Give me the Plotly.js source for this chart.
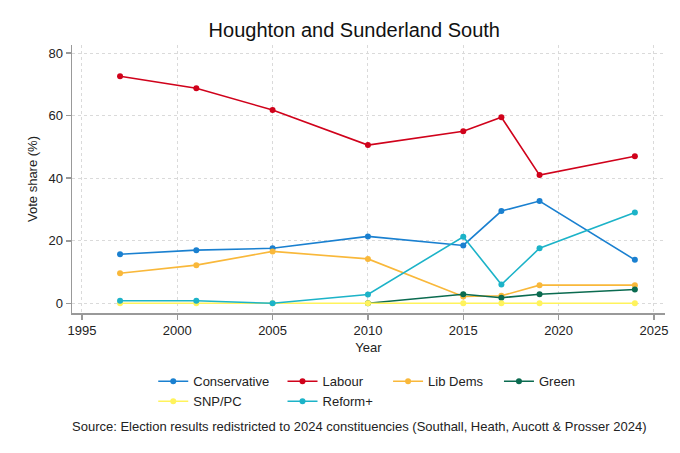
<!DOCTYPE html>
<html>
<head>
<meta charset="utf-8">
<script src="https://cdn.plot.ly/plotly-3.0.1.min.js"></script>
<style>
  html, body { margin: 0; padding: 0; background: #fff; }
  #plot { width: 680px; height: 453px; }
</style>
</head>
<body>
<div id="plot"></div>
<script>
var years = [1997, 2001, 2005, 2010, 2015, 2017, 2019, 2024];

var conservative = [15.7, 17.0, 17.6, 21.4, 18.5, 29.5, 32.7, 13.9];
var labour       = [72.6, 68.8, 61.8, 50.6, 55.0, 59.5, 41.0, 47.0];
var libDems      = [9.6, 12.2, 16.6, 14.2, 2.2, 2.4, 5.8, 5.8];
var green        = [null, null, null, 0, 2.9, 1.8, 2.9, 4.4];
var snpPc        = [0, 0, 0, 0, 0, 0, 0, 0];
var reform       = [0.8, 0.8, 0, 2.8, 21.3, 6.0, 17.6, 29.0];

var xTicks = [1995, 2000, 2005, 2010, 2015, 2020, 2025];
var yTicks = [0, 20, 40, 60, 80];

function party(name, values, color, legend) {
  return {
    x: years,
    y: values,
    name: name,
    mode: 'lines+markers',
    line: { color: color, width: 1.6 },
    marker: { color: color, size: 6 },
    legend: legend
  };
}

var plotData = [
  party('Conservative', conservative, '#1a80d0', 'legend'),
  party('Labour', labour, '#d0021b', 'legend2'),
  party('Lib Dems', libDems, '#f9b83a', 'legend3'),
  party('Green', green, '#0b6b50', 'legend4'),
  party('SNP/PC', snpPc, '#fff35c', 'legend'),
  party('Reform+', reform, '#1cb3c8', 'legend2')
];

var legendBase = {
  orientation: 'v',
  xanchor: 'left',
  yanchor: 'top',
  y: -0.199,
  font: { size: 13, color: '#222' },
  tracegroupgap: 0,
  bgcolor: 'rgba(0,0,0,0)'
};

var layout = {
  width: 680,
  height: 453,
  margin: { l: 72, r: 15, t: 45, b: 140 },
  paper_bgcolor: '#fff',
  plot_bgcolor: '#fff',
  font: { family: 'Liberation Sans, Arial, sans-serif', size: 13, color: '#222' },
  title: {
    text: 'Houghton and Sunderland South',
    font: { size: 20, color: '#111' },
    x: 0.521, xanchor: 'center',
    y: 0.934, yanchor: 'middle'
  },
  xaxis: {
    range: [1994.48, 2025.58],
    tickvals: xTicks,
    ticks: 'outside', ticklen: 5, tickwidth: 1.5, tickcolor: '#999',
    showline: true, linecolor: '#999', linewidth: 1.5,
    showgrid: true, gridcolor: '#dadada', griddash: 'dot', gridwidth: 1,
    zeroline: false,
    title: { text: 'Year', standoff: 6, font: { size: 13 } }
  },
  yaxis: {
    range: [-3.1, 82.6],
    tickvals: yTicks,
    ticks: 'outside', ticklen: 5, tickwidth: 1.5, tickcolor: '#999',
    showline: true, linecolor: '#999', linewidth: 1.5,
    showgrid: true, gridcolor: '#dadada', griddash: 'dot', gridwidth: 1,
    zeroline: false,
    title: { text: 'Vote share (%)', standoff: 8, font: { size: 13 } }
  },
  showlegend: true,
  legend: Object.assign({}, legendBase, { x: 0.137 }),
  legend2: Object.assign({}, legendBase, { x: 0.355 }),
  legend3: Object.assign({}, legendBase, { x: 0.533 }),
  legend4: Object.assign({}, legendBase, { x: 0.720 }),
  annotations: [{
    text: 'Source: Election results redistricted to 2024 constituencies (Southall, Heath, Aucott &amp; Prosser 2024)',
    xref: 'paper', yref: 'paper',
    x: 0.484, y: -0.425,
    xanchor: 'center', yanchor: 'middle',
    showarrow: false,
    font: { size: 13, color: '#222' }
  }]
};

Plotly.newPlot('plot', plotData, layout, { displayModeBar: false, staticPlot: true });
</script>
</body>
</html>
